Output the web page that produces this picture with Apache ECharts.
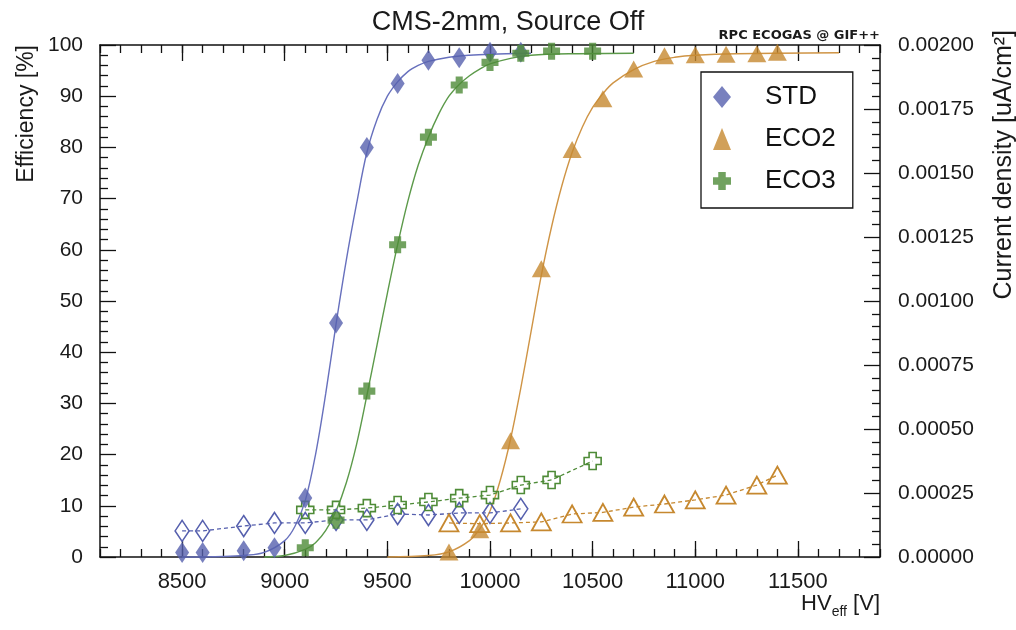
<!DOCTYPE html>
<html>
<head>
<meta charset="utf-8">
<script src="https://cdn.jsdelivr.net/npm/echarts@6/dist/echarts.min.js"></script>
<style>html,body{margin:0;padding:0;background:#fff}#c{width:1016px;height:630px}</style>
</head>
<body>
<div id="c"></div>
<script>
// ---- data ----
const hvStd  = [8500, 8600, 8800, 8950, 9100, 9250, 9400, 9550, 9700, 9850, 10000, 10150];
const effStd = [0.9, 0.9, 1.2, 1.8, 11.5, 45.7, 80, 92.5, 97, 97.5, 98.6, 98.6];
const curStd = [0.000102, 0.000102, 0.000121, 0.000133, 0.000133, 0.000145, 0.000145, 0.000168, 0.000164, 0.000172, 0.000172, 0.000188];

const hvEco2  = [9800, 9950, 10100, 10250, 10400, 10550, 10700, 10850, 11000, 11150, 11300, 11400];
const effEco2 = [1.0, 5.3, 22.7, 56.3, 79.6, 89.5, 95.3, 97.9, 98.1, 98.2, 98.3, 98.6];
const curEco2 = [0.000133, 0.00013, 0.000133, 0.000137, 0.000168, 0.000174, 0.000195, 0.000207, 0.000223, 0.000242, 0.000281, 0.00032];

const hvEco3  = [9100, 9250, 9400, 9550, 9700, 9850, 10000, 10150, 10300, 10500];
const effEco3 = [1.8, 7.2, 32.4, 61, 82, 92.2, 96.6, 98.4, 98.8, 98.8];
const curEco3 = [0.000184, 0.000184, 0.000191, 0.000203, 0.000215, 0.00023, 0.000242, 0.000281, 0.000301, 0.000375];

// fitted efficiency curves
const fitStdHV  = [8500, 8700, 8800, 8900, 9000, 9050, 9100, 9150, 9200, 9250, 9300, 9350, 9400, 9450, 9500, 9550, 9600, 9650, 9700, 9800, 9900, 10000, 10200];
const fitStdEff = [0, 0.1, 0.3, 0.9, 3.2, 6, 11, 20, 32, 45.5, 58, 69, 79, 85.5, 90, 92.8, 94.8, 96, 96.8, 97.6, 98, 98.2, 98.4];
const fitEco3HV  = [8900, 9000, 9100, 9150, 9200, 9250, 9300, 9350, 9400, 9450, 9500, 9550, 9600, 9650, 9700, 9750, 9800, 9850, 9900, 9950, 10000, 10100, 10200, 10400, 10700];
const fitEco3Eff = [0, 0.3, 1.5, 2.8, 5.2, 9, 14.5, 22, 31.5, 41.5, 51.5, 61, 69.5, 76.5, 82, 86.5, 90, 92.3, 94, 95.3, 96.3, 97.4, 98, 98.3, 98.4];
const fitEco2HV  = [9500, 9700, 9800, 9900, 9950, 10000, 10050, 10100, 10150, 10200, 10250, 10300, 10350, 10400, 10450, 10500, 10550, 10600, 10700, 10800, 10900, 11000, 11200, 11700];
const fitEco2Eff = [0, 0.3, 1, 3.2, 5.5, 9, 15, 23, 33, 44, 55, 64.5, 72.5, 79, 84, 87.8, 90.5, 92.6, 95.2, 96.8, 97.6, 98, 98.3, 98.5];

const xMajorTicks = [8500, 9000, 9500, 10000, 10500, 11000, 11500];

// ---- styling ----
const FONT = 'Liberation Sans';
const C_STD = '#5660ae', C_ECO2 = '#c6882f', C_ECO3 = '#4e8b37';
const CROSS = 'path://M-1.25,-3 L1.25,-3 L1.25,-1.25 L3,-1.25 L3,1.25 L1.25,1.25 L1.25,3 L-1.25,3 L-1.25,1.25 L-3,1.25 L-3,-1.25 L-1.25,-1.25 Z';

const zip = (xs, ys) => xs.map((x, i) => [x, ys[i]]);

function xAx(pos, major) {
  const a = {
    type: 'value', position: pos, min: 8100, max: 11900,
    axisLine: { show: major, lineStyle: { color: '#111', width: 1.5 } },
    splitLine: { show: false },
    axisLabel: { show: false },
    axisTick: { inside: true, lineStyle: { color: '#111', width: 1.3 } }
  };
  if (major) {
    a.axisTick.customValues = xMajorTicks;
    a.axisTick.length = 16;
  } else {
    a.interval = 100;
    a.axisTick.length = 8;
  }
  return a;
}

const xBottom = xAx('bottom', true);
xBottom.axisLabel = { show: true, customValues: xMajorTicks, margin: 14, fontSize: 22, fontFamily: FONT, color: '#1a1a1a',
  formatter: v => String(v) };
xBottom.name = '{a|HV}{s|eff}{a| [V]}';
xBottom.nameLocation = 'end';
xBottom.nameGap = 0;
xBottom.nameTextStyle = {
  align: 'right', verticalAlign: 'top', padding: [36, 0, 0, 0],
  rich: {
    a: { fontSize: 22, fontFamily: FONT, color: '#1a1a1a', verticalAlign: 'top', lineHeight: 24 },
    s: { fontSize: 14, fontFamily: FONT, color: '#1a1a1a', verticalAlign: 'top', padding: [12, 0, 0, 0] }
  }
};

const option = {
  backgroundColor: '#fff',
  animation: false,
  title: [
    { text: 'CMS-2mm, Source Off', left: 'center', top: 4,
      textStyle: { fontSize: 27, fontWeight: 'normal', fontFamily: FONT, color: '#1a1a1a' } },
    { text: 'RPC ECOGAS @ GIF++', right: 136, top: 29, padding: 0,
      textStyle: { fontSize: 13, fontWeight: 'bold', fontFamily: 'DejaVu Sans', color: '#1a1a1a' } }
  ],
  grid: { left: 100, right: 136, top: 45, bottom: 73 },
  legend: {
    orient: 'vertical', left: 701, top: 72,
    data: ['STD', 'ECO2', 'ECO3'],
    backgroundColor: '#fff', borderColor: '#111', borderWidth: 1.3,
    padding: [12, 17, 14, 12],
    itemWidth: 18, itemHeight: 22, itemGap: 16,
    textStyle: { fontSize: 26, fontFamily: FONT, color: '#111', lineHeight: 26, padding: [0, 0, 0, 29] }
  },
  xAxis: [xBottom, xAx('bottom', false), xAx('top', true), xAx('top', false)],
  yAxis: [
    { type: 'value', position: 'left', min: 0, max: 100, interval: 10,
      axisLine: { show: true, lineStyle: { color: '#111', width: 1.5 } },
      axisTick: { inside: true, length: 16, lineStyle: { color: '#111', width: 1.3 } },
      minorTick: { show: true, splitNumber: 5, length: 8, lineStyle: { color: '#111', width: 1.3 } },
      splitLine: { show: false },
      axisLabel: { margin: 17, fontSize: 21, fontFamily: FONT, color: '#1a1a1a' } },
    { type: 'value', position: 'right', min: 0, max: 0.002, interval: 0.00025,
      axisLine: { show: true, lineStyle: { color: '#111', width: 1.5 } },
      axisTick: { inside: true, length: 16, lineStyle: { color: '#111', width: 1.3 } },
      minorTick: { show: true, splitNumber: 5, length: 8, lineStyle: { color: '#111', width: 1.3 } },
      splitLine: { show: false },
      axisLabel: { margin: 18, fontSize: 21, fontFamily: FONT, color: '#1a1a1a',
        formatter: v => v.toFixed(5) } }
  ],
  graphic: [
    { type: 'text', x: 27, y: 45, rotation: Math.PI / 2,
      style: { text: 'Efficiency [%]', fontSize: 23, fontFamily: FONT, fill: '#1a1a1a',
        align: 'right', verticalAlign: 'middle', textAlign: 'right', textVerticalAlign: 'middle' } },
    { type: 'text', x: 1004, y: 30, rotation: Math.PI / 2,
      style: { text: 'Current density [uA/cm²]', fontSize: 25, fontFamily: FONT, fill: '#1a1a1a',
        align: 'right', verticalAlign: 'middle', textAlign: 'right', textVerticalAlign: 'middle' } }
  ],
  series: [
    // fit curves
    { name: 'fitSTD', type: 'line', data: zip(fitStdHV, fitStdEff), showSymbol: false, smooth: 0.35,
      lineStyle: { color: '#6770bd', width: 1.4 }, clip: false, z: 2, silent: true },
    { name: 'fitECO3', type: 'line', data: zip(fitEco3HV, fitEco3Eff), showSymbol: false, smooth: 0.35,
      lineStyle: { color: '#5c9a4a', width: 1.4 }, clip: false, z: 2, silent: true },
    { name: 'fitECO2', type: 'line', data: zip(fitEco2HV, fitEco2Eff), showSymbol: false, smooth: 0.35,
      lineStyle: { color: '#cf9445', width: 1.4 }, clip: false, z: 2, silent: true },
    // current density (open markers, dashed)
    { name: 'curSTD', type: 'line', yAxisIndex: 1, data: zip(hvStd, curStd), clip: false, z: 3,
      symbol: 'diamond', symbolSize: [14, 21], showAllSymbol: true,
      itemStyle: { color: 'rgba(0,0,0,0)', borderColor: C_STD, borderWidth: 1.6 },
      lineStyle: { color: C_STD, width: 1.3, type: [4, 3] } },
    { name: 'curECO3', type: 'line', yAxisIndex: 1, data: zip(hvEco3, curEco3), clip: false, z: 3,
      symbol: CROSS, symbolSize: [17, 17], showAllSymbol: true,
      itemStyle: { color: 'rgba(0,0,0,0)', borderColor: C_ECO3, borderWidth: 1.6 },
      lineStyle: { color: C_ECO3, width: 1.3, type: [4, 3] } },
    { name: 'curECO2', type: 'line', yAxisIndex: 1, data: zip(hvEco2, curEco2), clip: false, z: 3,
      symbol: 'triangle', symbolSize: [19, 17], showAllSymbol: true,
      itemStyle: { color: 'rgba(0,0,0,0)', borderColor: C_ECO2, borderWidth: 1.8 },
      lineStyle: { color: C_ECO2, width: 1.3, type: [4, 3] } },
    // efficiency (filled markers)
    { name: 'STD', type: 'scatter', data: zip(hvStd, effStd), clip: false, z: 4,
      symbol: 'diamond', symbolSize: [14, 21], itemStyle: { color: C_STD } },
    { name: 'ECO2', type: 'scatter', data: zip(hvEco2, effEco2), clip: false, z: 4,
      symbol: 'triangle', symbolSize: [19, 17], itemStyle: { color: C_ECO2 } },
    { name: 'ECO3', type: 'scatter', data: zip(hvEco3, effEco3), clip: false, z: 4,
      symbol: CROSS, symbolSize: [17, 17], itemStyle: { color: C_ECO3 } }
  ]
};

const chart = echarts.init(document.getElementById('c'), null, { renderer: 'canvas' });
chart.setOption(option);
</script>
</body>
</html>
